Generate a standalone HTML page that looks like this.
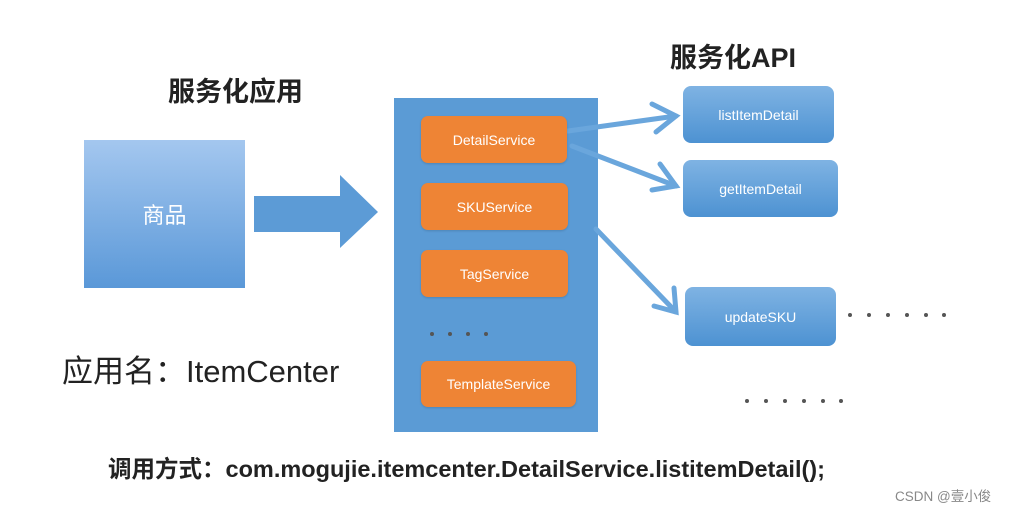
<!DOCTYPE html>
<html><head><meta charset="utf-8"><style>
html,body{margin:0;padding:0;background:#fff;}
body{width:1010px;height:508px;position:relative;overflow:hidden;font-family:"Liberation Sans","Noto Sans CJK SC",sans-serif;}
.a{position:absolute;}
.o{position:absolute;background:#ee8435;border-radius:7px;color:#fff;font-size:14px;display:flex;align-items:center;justify-content:center;box-shadow:0 1px 2px rgba(0,0,0,.15);}
.b{position:absolute;background:linear-gradient(#7fb3e3,#4d92d2);border-radius:8px;color:#fff;font-size:14px;display:flex;align-items:center;justify-content:center;}
.t{position:absolute;color:#222;white-space:nowrap;font-weight:bold;}
.d{position:absolute;width:4px;height:4px;border-radius:2px;background:#555;}
</style></head><body>
<div class="t" style="left:168px;top:70px;font-size:27px;">服务化应用</div>
<div class="t" style="left:670px;top:36px;font-size:27px;">服务化API</div>
<div class="a" style="left:84px;top:140px;width:161px;height:148px;background:linear-gradient(#a4c7ef,#5a98d8);color:#fff;font-size:22px;display:flex;align-items:center;justify-content:center;">商品</div>
<div class="a" style="left:394px;top:98px;width:204px;height:334px;background:#5b9bd5;"></div>
<svg class="a" style="left:0;top:0" width="1010" height="508">
<polygon points="254,196 340,196 340,175 378,212 340,248 340,232 254,232" fill="#5c9bd6"/>
<g stroke="#6aa6dc" stroke-width="5" fill="none" stroke-linecap="round">
<line x1="568" y1="131" x2="676" y2="116"/>
<polyline points="652,104 676,116 656,132"/>
<line x1="572" y1="146" x2="676" y2="186"/>
<polyline points="660,164 676,186 652,190"/>
<line x1="596" y1="229" x2="676" y2="312"/>
<polyline points="674,288 676,312 654,306"/>
</g>
</svg>
<div class="o" style="left:421px;top:116px;width:146px;height:47px;">DetailService</div>
<div class="o" style="left:421px;top:183px;width:147px;height:47px;">SKUService</div>
<div class="o" style="left:421px;top:250px;width:147px;height:47px;">TagService</div>
<div class="d" style="left:430px;top:332px"></div><div class="d" style="left:448px;top:332px"></div><div class="d" style="left:466px;top:332px"></div><div class="d" style="left:484px;top:332px"></div>
<div class="o" style="left:421px;top:361px;width:155px;height:46px;">TemplateService</div>
<div class="b" style="left:683px;top:86px;width:151px;height:57px;">listItemDetail</div>
<div class="b" style="left:683px;top:160px;width:155px;height:57px;">getItemDetail</div>
<div class="b" style="left:685px;top:287px;width:151px;height:59px;">updateSKU</div>
<div class="d" style="left:848px;top:313px"></div><div class="d" style="left:867px;top:313px"></div><div class="d" style="left:886px;top:313px"></div><div class="d" style="left:905px;top:313px"></div><div class="d" style="left:924px;top:313px"></div><div class="d" style="left:942px;top:313px"></div>
<div class="d" style="left:745px;top:399px"></div><div class="d" style="left:764px;top:399px"></div><div class="d" style="left:783px;top:399px"></div><div class="d" style="left:802px;top:399px"></div><div class="d" style="left:821px;top:399px"></div><div class="d" style="left:839px;top:399px"></div>
<div class="t" style="left:62px;top:346px;font-size:31px;font-weight:normal;">应用名：ItemCenter</div>
<div class="t" style="left:108px;top:450px;font-size:23.5px;">调用方式：com.mogujie.itemcenter.DetailService.listitemDetail();</div>
<div class="a" style="left:895px;top:485px;color:#888;font-size:13.5px;">CSDN @壹小俊</div>
</body></html>
